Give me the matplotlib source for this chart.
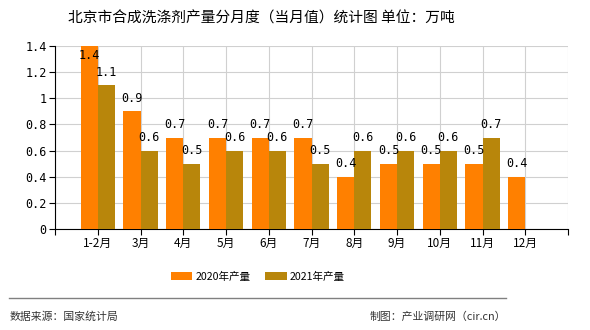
import numpy as np
import matplotlib.pyplot as plt

plt.rcParams['font.family'] = ['Noto Sans CJK SC', 'DejaVu Sans']

# data
months = ['1-2月', '3月', '4月', '5月', '6月', '7月', '8月', '9月', '10月', '11月', '12月']
val_2020 = [1.4, 0.9, 0.7, 0.7, 0.7, 0.7, 0.4, 0.5, 0.5, 0.5, 0.4]
val_2021 = [1.1, 0.6, 0.5, 0.6, 0.6, 0.5, 0.6, 0.6, 0.6, 0.7, None]
y_ticks = [0, 0.2, 0.4, 0.6, 0.8, 1, 1.2, 1.4]
y_tick_labels = ['0', '0.2', '0.4', '0.6', '0.8', '1', '1.2', '1.4']

c2020 = '#FF8000'
c2021 = '#B8860B'

fig = plt.figure(figsize=(5.9, 3.3), dpi=100)
ax = fig.add_axes([55 / 590, 1 - 229 / 330, 513 / 590, 183 / 330])

x = np.arange(1, len(months) + 1)
w = 0.4
ymax = 1.4

for i, (a, b) in enumerate(zip(val_2020, val_2021)):
    ax.bar(x[i] - w / 2, a, w, color=c2020, zorder=3)
    if a + 0.1 > ymax:
        ax.text(x[i] - w / 2, ymax - 0.02, str(a), ha='center', va='top',
                fontsize=8.5, family='DejaVu Sans Mono', zorder=4)
    else:
        ax.annotate(str(a), (x[i] - w / 2, a), xytext=(0, 4.5), textcoords='offset points',
                    ha='center', va='bottom', fontsize=8.5, family='DejaVu Sans Mono', zorder=4)
    if b is not None:
        ax.bar(x[i] + w / 2, b, w, color=c2021, zorder=3)
        ax.annotate(str(b), (x[i] + w / 2, b), xytext=(0, 4.5), textcoords='offset points',
                    ha='center', va='bottom', fontsize=8.5, family='DejaVu Sans Mono', zorder=4)

ax.set_xlim(0, len(months) + 1)
ax.set_ylim(0, ymax)
ax.set_xticks(np.arange(0, len(months) + 2))
ax.set_xticklabels([''] + months + [''], fontsize=8.5)
ax.set_yticks(y_ticks)
ax.set_yticklabels(y_tick_labels, fontsize=8.5, family='DejaVu Sans Mono')
ax.grid(True, color='#d0d0d0', linewidth=0.8, zorder=0)
ax.spines['top'].set_visible(False)
ax.spines['right'].set_visible(False)
ax.spines['left'].set_color('black')
ax.spines['bottom'].set_color('black')
ax.tick_params(axis='both', length=4, color='black', pad=2)

# legend
ax.bar([0], [0], color=c2020, label='2020年产量')
ax.bar([0], [0], color=c2021, label='2021年产量')
fig.legend(loc='center', bbox_to_anchor=(258 / 590, 1 - 277 / 330), ncol=2, frameon=False,
           fontsize=7.6, handlelength=2.0, handleheight=0.8, columnspacing=1.4, handletextpad=0.3)

fig.text(261 / 590, 1 - 18 / 330, '北京市合成洗涤剂产量分月度（当月值）统计图 单位：万吨',
         ha='center', va='center', fontsize=10.6)

fig.add_artist(plt.Line2D([9 / 590, 506 / 590], [1 - 298 / 330, 1 - 298 / 330],
                          color='#808080', linewidth=1))
fig.text(10 / 590, 1 - 317 / 330, '数据来源：国家统计局', ha='left', va='center',
         fontsize=7.8, color='#333333')
fig.text(506 / 590, 1 - 317 / 330, '制图：产业调研网（cir.cn）', ha='right', va='center',
         fontsize=7.8, color='#333333')

fig.savefig('out.png', dpi=100)
